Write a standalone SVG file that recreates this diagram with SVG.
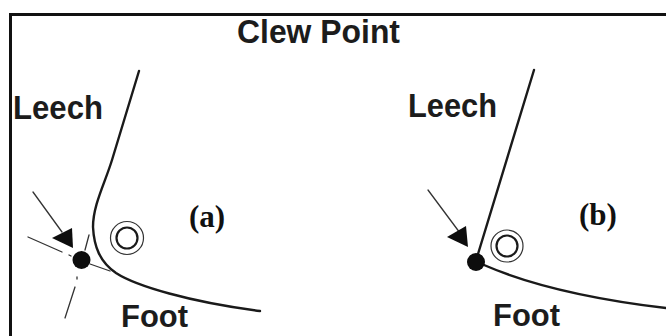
<svg xmlns="http://www.w3.org/2000/svg" width="666" height="336" viewBox="0 0 666 336">
<style>
.s{font-family:"Liberation Sans",Arial,sans-serif;font-weight:700;font-size:33px;fill:#1c1c1c}
.f{font-size:31px}
.t{font-family:"Liberation Serif","Times New Roman",serif;font-weight:700;font-size:31px;fill:#111}
.c{fill:none;stroke:#1a1a1a;stroke-width:2.4;stroke-linecap:round}
.h{fill:none;stroke:#333;stroke-width:1.3;stroke-linecap:round}
.d{fill:#0d0d0d}
.ro{fill:none;stroke:#333;stroke-width:1.2}
.ri{fill:none;stroke:#1a1a1a;stroke-width:2.2}
</style>
<rect width="666" height="336" fill="#fff"/>
<path d="M10.5 336V14.500H666" fill="none" stroke="#111" stroke-width="3"/>
<g id="title"><text class="s" x="237" y="43" textLength="163" lengthAdjust="spacingAndGlyphs">Clew Point</text></g>
<g id="connectors">
<path class="c" d="M139 71L112 160C105 183 93 205 93 227C94 247 100 262 116 273C136 286 190 302 260 311"/>
<path class="h" d="M33 192L62 232M28 237L62 252M69 255L71 256M90 264L110 271M89 235L85 250M77 277L77 279M75 287L65 318"/>
<path class="c" d="M534 70L478 254"/>
<path class="c" d="M484 265C530 285 590 299 666 308"/>
<path class="h" d="M428 190L460 233"/>
</g>
<g id="arrow-a"><polygon class="d" points="72,228 52,238 73,248"/></g>
<g id="arrow-b"><polygon class="d" points="466,226 447,237 468,247"/></g>
<g id="clew-a"><circle class="d" cx="81.500" cy="260" r="9"/></g>
<g id="clew-b"><circle class="d" cx="476" cy="262" r="9"/></g>
<g id="ring-a"><circle class="ro" cx="127" cy="238" r="16.500"/><circle class="ri" cx="127" cy="238" r="10.500"/></g>
<g id="ring-b"><circle class="ro" cx="507" cy="246" r="16"/><circle class="ri" cx="507" cy="246" r="10.500"/></g>
<g id="leech-a"><text class="s" x="13" y="119" textLength="90" lengthAdjust="spacingAndGlyphs">Leech</text></g>
<g id="leech-b"><text class="s" x="408" y="117" textLength="89" lengthAdjust="spacingAndGlyphs">Leech</text></g>
<g id="foot-a"><text class="s f" x="121" y="327" textLength="67" lengthAdjust="spacingAndGlyphs">Foot</text></g>
<g id="foot-b"><text class="s f" x="493" y="326" textLength="67" lengthAdjust="spacingAndGlyphs">Foot</text></g>
<g id="label-a"><text class="t" x="189" y="227">(a)</text></g>
<g id="label-b"><text class="t" x="579" y="225">(b)</text></g>
</svg>
